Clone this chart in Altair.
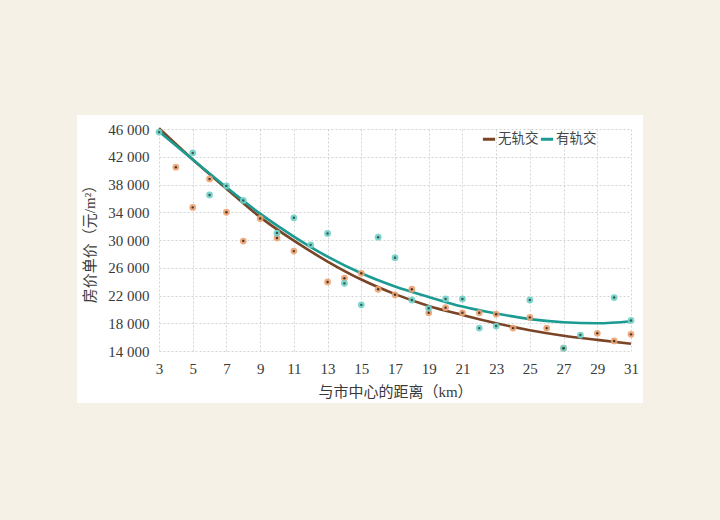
import altair as alt
import pandas as pd

# ---------------- data ----------------
series_names = ["无轨交", "有轨交"]
dist_ticks = list(range(3, 32, 2))
price_ticks = list(range(14000, 46001, 4000))

curve_x = [3, 5, 7, 9, 11, 13, 15, 17, 19, 21, 23, 25, 27, 29, 31]
curve_no = [46100, 41600, 37400, 33300, 29900, 26900, 24300, 22200, 20500,
            19200, 18000, 17000, 16200, 15600, 15050]
curve_yes = [45650, 41600, 37600, 33800, 30500, 27600, 25200, 23300, 21800,
             20400, 19400, 18600, 18150, 18000, 18300]

no_x = [4, 5, 6, 7, 8, 9, 10, 11, 13, 14, 15, 16, 17, 18, 19, 20, 21, 22, 23,
        24, 25, 26, 27, 29, 30, 31]
no_y = [40500, 34700, 38800, 34000, 29850, 33100, 30300, 28400, 23950, 24500,
        25200, 22900, 22100, 22900, 19500, 20250, 19500, 19500, 19300, 17300,
        18850, 17300, 14400, 16550, 15450, 16400]

yes_x = [3, 5, 6, 7, 8, 10, 11, 12, 13, 14, 15, 16, 17, 18, 19, 20, 21, 22, 23,
         25, 27, 28, 30, 31]
yes_y = [45550, 42550, 36500, 37800, 35700, 31000, 33200, 29300, 30950, 23750,
         20650, 30400, 27450, 21350, 20150, 21500, 21500, 17300, 17600, 21350,
         14400, 16300, 21700, 18400]

# ---------------- tables ----------------
curves = pd.DataFrame({
    "dist": curve_x * 2,
    "price": curve_no + curve_yes,
    "series": [series_names[0]] * len(curve_x) + [series_names[1]] * len(curve_x),
})
points = pd.DataFrame({
    "dist": no_x + yes_x,
    "price": no_y + yes_y,
    "series": [series_names[0]] * len(no_x) + [series_names[1]] * len(yes_x),
})

FONT = "Liberation Serif, Noto Sans CJK SC"
BEIGE = "#f6f1e7"
line_colors = ["#7a4526", "#1b9b92"]
dot_colors = ["#eba271", "#6fd0c6"]
core_colors = ["#3b2a1f", "#2d4d48"]

x_axis = alt.Axis(values=dist_ticks, tickCount=len(dist_ticks),
                  title="与市中心的距离（km）",
                  labelPadding=10, titlePadding=8,
                  labelOverlap=False, labelFlush=False)
y_axis = alt.Axis(values=price_ticks, tickCount=len(price_ticks),
                  title="房价单价（元/m²）",
                  labelExpr="replace(format(datum.value, ','), ',', ' ')",
                  labelPadding=10, titlePadding=10,
                  labelOverlap=False, labelFlush=False)
x_scale = alt.Scale(domain=[3, 31], nice=False, zero=False)
y_scale = alt.Scale(domain=[14000, 46000], nice=False, zero=False)


def xe():
    return alt.X("dist:Q", scale=x_scale, axis=x_axis)


def ye():
    return alt.Y("price:Q", scale=y_scale, axis=y_axis)


lines = alt.Chart(curves).mark_line(strokeWidth=2.6, interpolate="monotone").encode(
    x=xe(), y=ye(),
    color=alt.Color("series:N",
                    scale=alt.Scale(domain=series_names, range=line_colors),
                    legend=alt.Legend(title=None, orient="none", direction="horizontal",
                                      legendX=322, legendY=2, symbolType="stroke",
                                      symbolStrokeWidth=3, symbolSize=150,
                                      labelFontSize=13.5, labelFont=FONT,
                                      labelColor="#444", columnPadding=-6,
                                      labelOffset=1)),
)

dots = alt.Chart(points).mark_circle(size=46, opacity=0.9).encode(
    x=xe(), y=ye(),
    color=alt.Color("series:N", scale=alt.Scale(domain=series_names, range=dot_colors),
                    legend=None),
)
cores = alt.Chart(points).mark_circle(size=6, opacity=0.9).encode(
    x=xe(), y=ye(),
    color=alt.Color("series:N", scale=alt.Scale(domain=series_names, range=core_colors),
                    legend=None),
)

# beige frame around the white panel (decoration, outside the plot area)
def strip(x0, x1, y0, y1):
    return alt.Chart(pd.DataFrame({"k": [0]})).mark_rect(color=BEIGE).encode(
        x=alt.value(x0), x2=alt.value(x1), y=alt.value(y0), y2=alt.value(y1))

frame = (strip(-159, -82, -129, 391) + strip(484, 561, -129, 391)
         + strip(-159, 561, -129, -14) + strip(-159, 561, 274, 391))

chart = alt.layer(lines, dots, cores, frame).resolve_scale(
    color="independent"
).properties(
    width=472, height=222,
    autosize=alt.AutoSizeParams(type="none"),
    padding={"left": 159, "top": 129, "right": 89, "bottom": 169},
    background="white",
).configure_view(stroke=None).configure_axis(
    domain=False, ticks=False,
    grid=True, gridColor="#d4d4d4", gridDash=[2, 2], gridWidth=1,
    labelFont=FONT, labelFontSize=15, labelColor="#3a3a3a",
    titleFont=FONT, titleFontSize=15, titleFontWeight="normal", titleColor="#3a3a3a",
)

chart.save("out.html", embed_options={"renderer": "svg", "actions": False})
